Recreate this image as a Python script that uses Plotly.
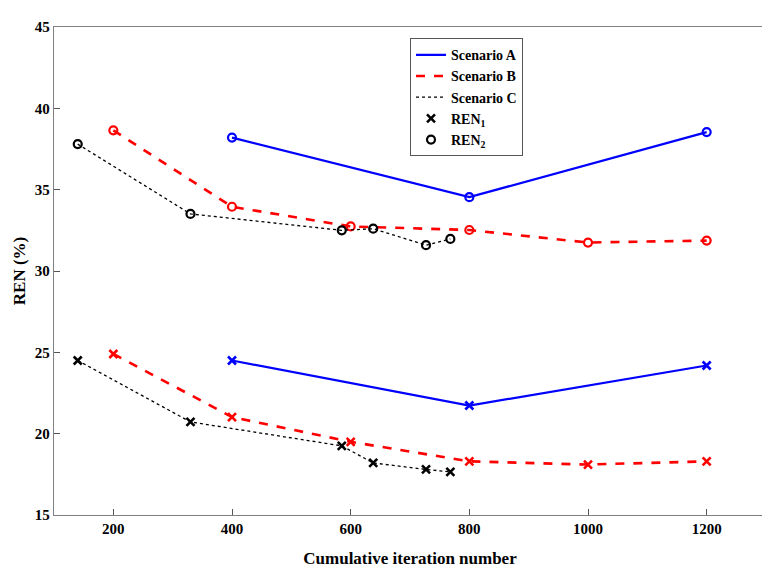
import plotly.graph_objects as go

# Scenario A
a_x = [400, 800, 1200]
a_ren1 = [24.5, 21.73, 24.19]
a_ren2 = [38.2, 34.54, 38.54]
# Scenario B
b_x = [200, 400, 600, 800, 1000, 1200]
b_ren1 = [24.9, 21.02, 19.5, 18.3, 18.1, 18.3]
b_ren2 = [38.65, 33.95, 32.74, 32.52, 31.75, 31.87]
# Scenario C
c_x = [140, 330, 585, 638, 727, 768]
c_ren1 = [24.5, 20.72, 19.25, 18.2, 17.8, 17.65]
c_ren2 = [37.8, 33.51, 32.5, 32.6, 31.59, 31.97]

x_ticks = [200, 400, 600, 800, 1000, 1200]
y_ticks = [15, 20, 25, 30, 35, 40, 45]

FONT = "Times New Roman, Liberation Serif, serif"

scen = [
    ("Scenario A", a_x, a_ren1, a_ren2, "#0000ff", "solid", 2.2),
    ("Scenario B", b_x, b_ren1, b_ren2, "#ff0000", "dash", 2.6),
    ("Scenario C", c_x, c_ren1, c_ren2, "#000000", "dot", 1.3),
]

fig = go.Figure()
for name, xs, r1, r2, col, dash, lw in scen:
    for ys, sym, msz, mlw in [(r1, "x-thin-open", 8, 2.6), (r2, "circle-open", 8, 2.2)]:
        fig.add_trace(go.Scatter(
            x=xs, y=ys, mode="lines+markers", showlegend=False,
            line=dict(color=col, dash=dash, width=lw),
            marker=dict(symbol=sym, size=msz, color=col, line=dict(color=col, width=mlw)),
        ))

# legend entries
for name, xs, r1, r2, col, dash, lw in scen:
    fig.add_trace(go.Scatter(x=[None], y=[None], mode="lines", name=name,
                             line=dict(color=col, dash=dash, width=lw)))
fig.add_trace(go.Scatter(x=[None], y=[None], mode="markers", name="REN<sub>1</sub>",
                         marker=dict(symbol="x-thin-open", size=8, color="black",
                                     line=dict(color="black", width=2.6))))
fig.add_trace(go.Scatter(x=[None], y=[None], mode="markers", name="REN<sub>2</sub>",
                         marker=dict(symbol="circle-open", size=8, color="black",
                                     line=dict(color="black", width=2.2))))

axis_common = dict(
    showgrid=False, zeroline=False, showline=True, linecolor="#808080", linewidth=1.3,
    mirror=True, ticks="inside", ticklen=6, tickcolor="#555555", tickwidth=1,
    tickmode="array",
)

fig.update_layout(
    width=770, height=567,
    margin=dict(l=46, r=11, t=14, b=48),
    plot_bgcolor="white", paper_bgcolor="white",
    font=dict(family=FONT, color="black"),
    xaxis=dict(range=[100, 1300], tickvals=x_ticks,
               ticktext=["<b>%d</b>" % v for v in x_ticks],
               tickfont=dict(family=FONT, size=15, color="black"),
               title=dict(text="<b>Cumulative iteration number</b>",
                          font=dict(family=FONT, size=17)),
               **axis_common),
    yaxis=dict(range=[15, 45], tickvals=y_ticks,
               ticktext=["<b>%d</b>" % v for v in y_ticks],
               tickfont=dict(family=FONT, size=15, color="black"),
               title=dict(text="<b>REN (%)</b>",
                          font=dict(family=FONT, size=17), standoff=4),
               **axis_common),
    legend=dict(x=0.50, y=0.977, xanchor="left", yanchor="top",
                bgcolor="white", bordercolor="#555555", borderwidth=1,
                font=dict(family=FONT, size=14, color="black", weight="bold"),
                tracegroupgap=0, itemwidth=30),
)

fig.write_html("out.html")
